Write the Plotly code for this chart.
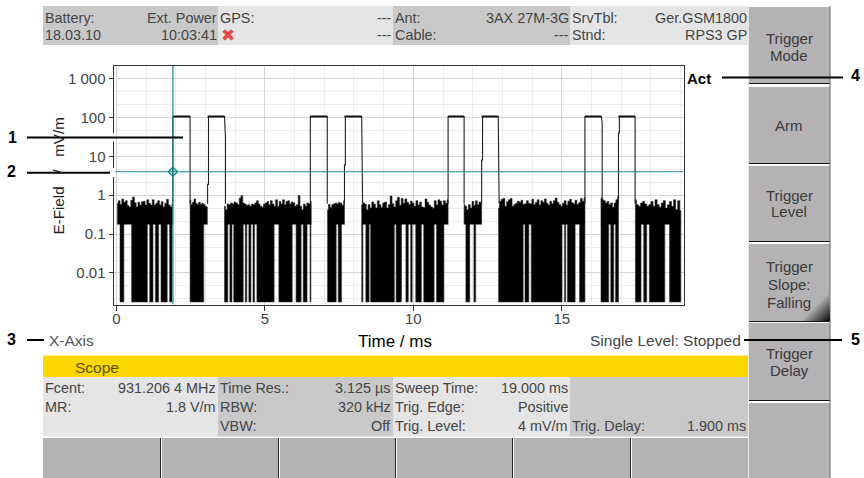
import numpy as np
import plotly.graph_objects as go

W, H = 864, 478
# ---------- data (ms, mV/m) ----------
trigger_delay = 1.9
trigger_level = 4
noise_floor = 0.175
deep_floor = 0.0018
pulse_top = 105
noise_at_pulse = 0.6

band_edges = [(0.03, 1.90), (2.48, 3.06), (3.64, 6.56), (7.11, 7.68), (8.26, 11.17),
              (11.71, 12.30), (12.87, 15.78), (16.32, 16.91), (17.48, 19.01)]
band_peaks = [
    [.62,.72,.58,.8,.66,.72,.54,.5,.74,.9,.64,.5,.66,.56,.68,.7,.56,.76,.62,.56,.76,.56,.62,.72,.56,.68,.5,.62,.78,.56,.5,.6],
    [.76,.58,.66,.8,.62,.58,.66,.58,.62,.58,.52,.5],
    [.52,.42,.59,.57,.63,.59,.67,.63,.57,.85,.97,.63,.59,.55,.57,.52,.59,.57,.63,.72,.59,.52,.49,.59,.63,.69,.57,.72,.59,.52,.76,.52,.69,.59,.76,.57,.69,.72,.59,.67,.63,.52,.57,.97,.52,.42,.59,.52,.63,.59,.69],
    [.42,.58,.48,.57,.6,.63,.6,.65,.62,.55,.72],
    [.57,.63,.59,.42,.57,.47,.67,.59,.47,.72,.57,.49,.63,.67,.47,.57,.95,.6,.5,.72,.88,.55,.82,.62,.8,.66,.58,.7,.62,.52,.72,.56,.66,.5,.48,.8,.66,.56,.5,.46,.72,.56,.76,.7,.56,.72,.62,.76],
    [.57,.52,.42,.57,.47,.69,.55,.72,.57,.67,.62],
    [.47,.7,.78,.82,.52,.68,.76,.82,.52,.58,.62,.7,.66,.74,.58,.6,.72,.62,.6,.78,.58,.66,.76,.56,.72,.66,.8,.62,.56,.7,.6,.72,.84,.66,.58,.52,.62,.72,.56,.7,.78,.64,.6,.74,.58,.64,.82,.7,.86],
    [.85,.76,.72,.63,.69,.57,.63,.49,.63,.76,.93],
    [.76,.57,.52,.63,.69,.59,.52,.57,.69,.52,.76,.57,.49,.63,.72,.47,.57,.69,.52,.76,.42,.72,.4],
]
deep_columns = [
    (0.12,0.25),(0.51,1.04),(1.12,1.23),(1.31,1.42),(1.50,1.71),(1.79,1.87),
    (2.48,2.94),
    (3.64,3.75),(3.82,3.89),(3.95,4.27),(4.34,4.39),(4.46,4.53),(4.60,4.65),(4.73,5.31),(5.47,5.92),(6.05,6.22),(6.29,6.42),(6.52,6.55),
    (7.11,7.40),(7.47,7.58),
    (8.26,8.30),(8.40,8.51),(8.56,9.36),(9.42,9.60),(9.75,9.83),(9.91,9.96),(10.08,10.27),(10.35,10.70),(10.78,11.03),
    (11.77,11.90),(12.04,12.10),
    (12.87,13.70),(13.76,13.89),(13.97,15.01),(15.09,15.13),(15.19,15.45),(15.60,15.78),
    (16.32,16.58),(16.65,16.75),(16.81,16.91),
    (17.48,17.67),(17.76,17.86),(17.95,18.47),(18.63,19.01),
]
pulse_rise = [1.90, 3.07, 6.53, 7.68, 11.17, 12.30, 15.78, 16.91]
pulse_fall = [2.48, 3.64, 7.10, 8.26, 11.71, 12.86, 16.33, 17.47]
pulse_rise_kink = [None, 1.9, None, 6, None, 8, None, 40]
pulse_fall_kink = [None, 32, None, 5, None, 3, 75, None]

x_ticks = [0, 5, 10, 15]
y_ticks = [1000, 100, 10, 1, 0.1, 0.01]
y_tick_labels = ["1 000", "100", "10", "1", "0.1", "0.01"]
y_minor = [m * 10.0**e for e in range(-3, 4) for m in (2.15, 4.64)]

top_rows = [
    (43, 218, "#c9c9c9", "Battery:", "Ext. Power", "18.03.10", "10:03:41"),
    (218, 393, "#e5e5e5", "GPS:", "---", "", "---"),
    (393, 570, "#c9c9c9", "Ant:", "3AX 27M-3G", "Cable:", "---"),
    (570, 748, "#e5e5e5", "SrvTbl:", "Ger.GSM1800", "Stnd:", "RPS3 GP"),
]
bottom_rows = [
    (43, 218, "#e5e5e5", [("Fcent:", "931.206 4 MHz"), ("MR:", "1.8 V/m"), ("", "")]),
    (218, 393, "#c9c9c9", [("Time Res.:", "3.125 µs"), ("RBW:", "320 kHz"), ("VBW:", "Off")]),
    (393, 570, "#e5e5e5", [("Sweep Time:", "19.000 ms"), ("Trig. Edge:", "Positive"), ("Trig. Level:", "4 mV/m")]),
    (570, 748, "#c9c9c9", [("", ""), ("", ""), ("Trig. Delay:", "1.900 ms")]),
]
side_buttons = [
    (7, 83, [("Trigger", 38), ("Mode", 55)]),
    (87, 163, [("Arm", 125)]),
    (166, 241, [("Trigger", 195), ("Level", 212)]),
    (244, 321, [("Trigger", 266), ("Slope:", 284), ("Falling", 302)]),
    (323, 400, [("Trigger", 353), ("Delay", 370)]),
    (403, 478, []),
]
bottom_buttons = [(43, 160), (162, 278), (280, 395), (397, 512), (514, 630), (632, 748)]
callouts = [
    ("1", 12, 137, 27, 183, 137.5),
    ("2", 11, 172, 27, 110, 172.7),
    ("3", 11, 339, 27, 44, 340),
    ("4", 855, 76, 722, 843, 77.5),
    ("5", 855, 339, 744, 842, 340),
]

# ---------- helpers ----------
fx = lambda p: p / W
fy = lambda p: 1 - p / H
shapes, annos = [], []

def rect(x0, y0, x1, y1, color, line=None, layer="below"):
    shapes.append(dict(type="rect", xref="paper", yref="paper", x0=fx(x0), x1=fx(x1), y0=fy(y0), y1=fy(y1),
                       fillcolor=color, line=dict(width=0), layer=layer))

def hline(x0, x1, y, color="#000", width=1, layer="above"):
    shapes.append(dict(type="line", xref="paper", yref="paper", x0=fx(x0), x1=fx(x1), y0=fy(y), y1=fy(y),
                       line=dict(color=color, width=width), layer=layer))

def vline(x, y0, y1, color="#000", width=1, layer="above"):
    shapes.append(dict(type="line", xref="paper", yref="paper", x0=fx(x), x1=fx(x), y0=fy(y0), y1=fy(y1),
                       line=dict(color=color, width=width), layer=layer))

def text(x, y, s, anchor="left", size=14.4, color="#444", bold=False, font="Liberation Sans", angle=0):
    if not s:
        return
    annos.append(dict(xref="paper", yref="paper", x=fx(x), y=fy(y), text=f"<b>{s}</b>" if bold else s,
                      showarrow=False, xanchor=anchor, yanchor="middle", borderpad=0, borderwidth=0,
                      textangle=angle, font=dict(family=font, size=size, color=color)))

# ---------- screen furniture ----------
for x0, x1, c, a, b, d, e in top_rows:
    rect(x0, 6, x1, 45, c)
    text(x0 + 2, 17.5, a); text(x1 - 1, 17.5, b, "right")
    text(x0 + 2, 35.5, d); text(x1 - 1, 35.5, e, "right")
text(228, 35, "✖", "center", 17, "#e2504e", font="DejaVu Sans")

rect(43, 355.5, 748, 377, "#ffd700")
text(75, 367, "Scope", size=15.5, color="#5a5000")
for x0, x1, c, rows in bottom_rows:
    rect(x0, 377, x1, 436.5, c)
    for (a, b), y in zip(rows, (388, 407, 426)):
        text(x0 + 2, y, a); text(x1 - 2, y, b, "right")

for x0, x1 in bottom_buttons:
    rect(x0, 438, x1, 478, "#b4b2b4")
    if x1 < 748:
        vline(x1 + 0.5, 438, 478, "#222222", 1, "below")
for y0, y1, lines in side_buttons:
    rect(748, y0, 830, y1, "#b4b2b4")
    hline(748, 830, y0 - 0.5, "#ffffff", 1, "below")
    hline(748, 830, y1 + 0.5, "#111111", 1, "below")
    for s, y in lines:
        text(789, y, s, "center", 15, "#3a3a3a")
vline(748.5, 6, 478, "#e6e6e6", 1, "below")
vline(830, 6, 478, "#666666", 1, "below")
for k, level in zip(range(28, 0, -2), np.linspace(165, 15, 14)):
    g = int(level)
    shapes.append(dict(type="path", xref="paper", yref="paper", layer="below",
                       path=f"M {fx(829.5)} {fy(321 - k)} L {fx(829.5)} {fy(321)} L {fx(829.5 - k)} {fy(321)} Z",
                       fillcolor=f"rgb({g},{g},{g})", line=dict(width=0)))

text(687, 78, "Act", size=15, color="#000", bold=True)
text(49, 340, "X-Axis", size=15.5, color="#555")
text(741, 340, "Single Level: Stopped", "right", size=15.5)
text(394.5, 341, "Time / ms", "center", 17, "#000")
text(58, 176.5, "E-Field\u00a0\u00a0\u00a0/\u00a0\u00a0\u00a0mV/m", "center", 15.2, "#222", angle=-90)

rect(48, 133, 115, 141.5, "#ffffff", layer="above")
rect(48, 168, 115, 177, "#ffffff", layer="above")
for s, tx, ty, x0, x1, ly in callouts:
    hline(x0, x1, ly, "#000", 2)
    text(tx, ty, s, "center", 16, "#000", True)

# ---------- traces ----------
fig = go.Figure()
bx, by = [], []
for (a, b), peaks in zip(band_edges, band_peaks):
    ts = np.linspace(a, b, len(peaks))
    bx += [a] + list(ts) + [b, None]
    by += [noise_floor] + list(peaks) + [noise_floor, None]
fig.add_trace(go.Scatter(x=bx, y=by, mode="lines", fill="toself", fillcolor="#000",
                         line=dict(color="#222", width=0.6, shape="hvh"), hoverinfo="skip"))
dx, dy = [], []
for a, b in deep_columns:
    dx += [a, a, b, b, None]
    dy += [noise_floor * 1.05, deep_floor, deep_floor, noise_floor * 1.05, None]
fig.add_trace(go.Scatter(x=dx, y=dy, mode="lines", fill="toself", fillcolor="#000",
                         line=dict(color="#333", width=0.6), hoverinfo="skip"))
px_, py_ = [], []
for r, f, rk, fk in zip(pulse_rise, pulse_fall, pulse_rise_kink, pulse_fall_kink):
    px_ += [r]; py_ += [noise_at_pulse]
    if rk:
        px_ += [r, r + 0.03]; py_ += [rk, rk]
    px_ += [r + 0.03 if rk else r, f]; py_ += [pulse_top, pulse_top]
    if fk:
        px_ += [f + 0.03, f + 0.03]; py_ += [fk, fk]
        px_ += [f + 0.03]; py_ += [noise_at_pulse]
    else:
        px_ += [f]; py_ += [noise_at_pulse]
    px_ += [None]; py_ += [None]
fig.add_trace(go.Scatter(x=px_, y=py_, mode="lines", line=dict(color="#1c1c1c", width=1.1), hoverinfo="skip"))
tx_, ty_ = [], []
for r, f in zip(pulse_rise, pulse_fall):
    tx_ += [r, f, None]; ty_ += [pulse_top, pulse_top, None]
fig.add_trace(go.Scatter(x=tx_, y=ty_, mode="lines", line=dict(color="#111", width=2), hoverinfo="skip"))
fig.add_trace(go.Scatter(x=[trigger_delay, trigger_delay], y=[10**-2.81, 10**3.32], mode="lines",
                         line=dict(color="#18898a", width=1.2), hoverinfo="skip"))
fig.add_trace(go.Scatter(x=[-0.1, 19.1], y=[trigger_level, trigger_level], mode="lines",
                         line=dict(color="#18898a", width=1), hoverinfo="skip"))
fig.add_trace(go.Scatter(x=[trigger_delay], y=[trigger_level], mode="markers",
                         marker=dict(symbol="diamond-open", size=7, color="#18898a", line=dict(width=1.5)), hoverinfo="skip"))

fig.update_layout(
    width=W, height=H, margin=dict(l=0, r=0, t=0, b=0), paper_bgcolor="#fff", plot_bgcolor="#fff",
    showlegend=False, shapes=shapes, annotations=annos, font=dict(family="Liberation Sans", color="#444"),
    xaxis=dict(domain=[fx(113.5), fx(683.5)], range=[-0.1, 19.1], tickvals=x_ticks, ticks="outside", ticklen=5,
               tickcolor="#333", showgrid=True, gridcolor="#d4d4d4", gridwidth=1, zeroline=False,
               minor=dict(dtick=1, showgrid=True, gridcolor="#f1eded", ticks=""), ticklabelstandoff=-5,
               showline=True, mirror=True, linecolor="#333", linewidth=1, tickfont=dict(size=15)),
    yaxis=dict(domain=[fy(304.5), fy(66)], type="log", range=[-2.81, 3.32], tickmode="array", tickvals=y_ticks,
               ticktext=y_tick_labels, ticks="outside", ticklen=4, tickcolor="#333", showgrid=True,
               gridcolor="#d4d4d4", gridwidth=1, zeroline=False,
               minor=dict(tickvals=y_minor, showgrid=True, gridcolor="#ececec", ticks=""),
               showline=True, mirror=True, linecolor="#333", linewidth=1, tickfont=dict(size=15)),
)
fig.write_html("out.html", post_script="document.body.style.margin='0';", config=dict(displayModeBar=False))
